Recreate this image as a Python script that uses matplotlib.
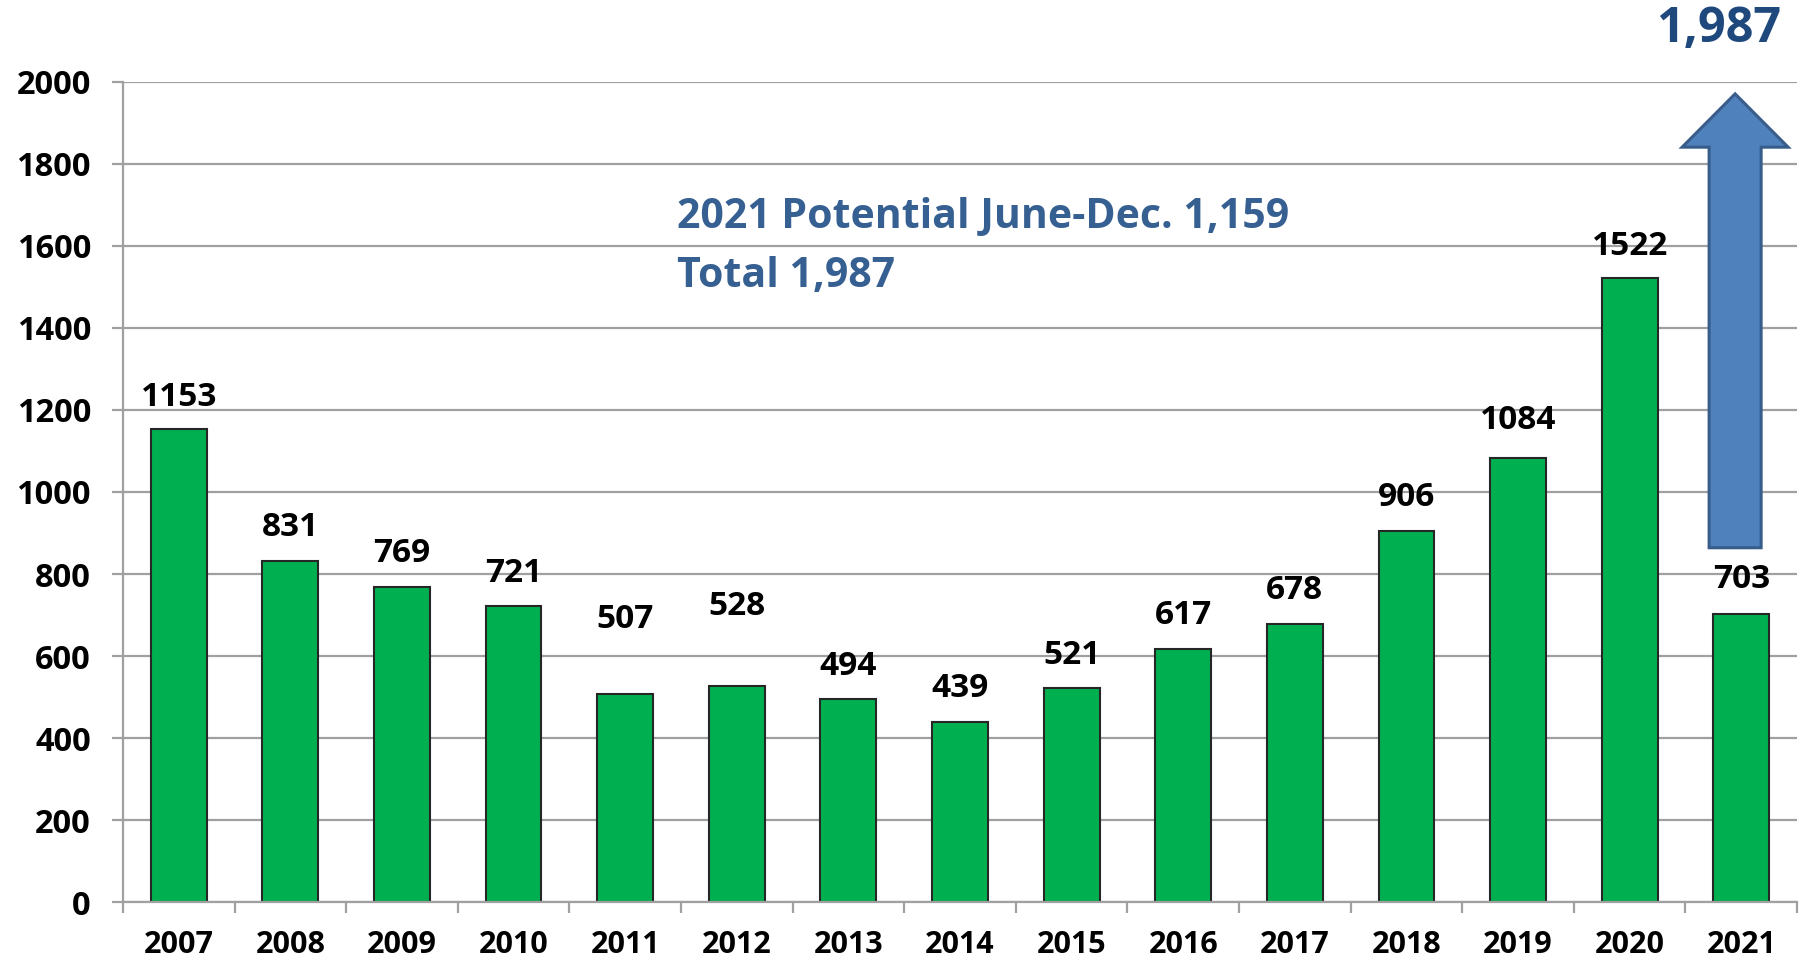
import matplotlib.pyplot as plt
import numpy as np
from matplotlib.patches import FancyArrow

# data
years = ['2007', '2008', '2009', '2010', '2011', '2012', '2013', '2014',
         '2015', '2016', '2017', '2018', '2019', '2020', '2021']
counts = [1153, 831, 769, 721, 507, 528, 494, 439, 521, 617, 678, 906, 1084, 1522, 703]
# label lift above bar top, in points (some labels were moved by hand)
label_lift = [23, 24, 24, 24, 54, 57, 24, 24, 24, 24, 24, 24, 27, 23, 25]

potential_text = ['2021 Potential June-Dec. 1,159', 'Total 1,987']
total_label = '1,987'
arrow_top = 1971
arrow_bottom = 864

plt.rcParams['font.family'] = ['Open Sans', 'DejaVu Sans']
plt.rcParams['font.weight'] = 'bold'

fig = plt.figure(figsize=(18.05, 9.6), dpi=100)
ax = fig.add_axes([0.0681, 0.0604, 0.9275, 0.8542])

x = np.arange(len(years))
grid_col = '#A0A0A0'

ax.set_axisbelow(True)
ax.yaxis.grid(True, color=grid_col, linewidth=1.6)
ax.bar(x, counts, width=0.5, color='#00B050', edgecolor='#262626', linewidth=1.5, zorder=2)

for xi, v, lift in zip(x, counts, label_lift):
    ax.annotate(str(v), (xi, v), xytext=(0, lift), textcoords='offset points',
                ha='center', va='center', fontsize=24, fontweight='bold', color='black')

# the blue arrow over 2021
arr = FancyArrow(x[-1] - 0.055, arrow_bottom, 0, arrow_top - arrow_bottom,
                 width=0.466, head_width=0.95, head_length=130,
                 length_includes_head=True, facecolor='#4F81BD',
                 edgecolor='#385D8A', linewidth=2.2, zorder=3)
ax.add_patch(arr)

fig.text(0.952, 0.969, total_label, ha='center', va='center',
         fontsize=35, fontweight='bold', color='#1F497D')

ax.text(0.331, 0.835, potential_text[0], transform=ax.transAxes,
        ha='left', va='center', fontsize=29.5, fontweight='bold', color='#376092')
ax.text(0.331, 0.763, potential_text[1], transform=ax.transAxes,
        ha='left', va='center', fontsize=29.5, fontweight='bold', color='#376092')

ax.set_xlim(-0.5, len(years) - 0.5)
ax.set_ylim(0, 2000)
ax.set_yticks(np.arange(0, 2001, 200))
ax.set_xticks(x)
ax.set_xticklabels(years)
ax.set_xticks(np.arange(-0.5, len(years), 1), minor=True)

ax.tick_params(axis='x', which='major', length=0, pad=20, labelsize=22)
ax.tick_params(axis='x', which='minor', length=8, width=1.6, color=grid_col, direction='out')
ax.tick_params(axis='y', length=8, width=1.6, color=grid_col, pad=15, labelsize=23.5)
for lab in ax.get_xticklabels() + ax.get_yticklabels():
    lab.set_fontweight('bold')

for s in ['top', 'right']:
    ax.spines[s].set_visible(False)
for s in ['left', 'bottom']:
    ax.spines[s].set_color(grid_col)
    ax.spines[s].set_linewidth(1.6)

fig.savefig('out.png', dpi=100)
